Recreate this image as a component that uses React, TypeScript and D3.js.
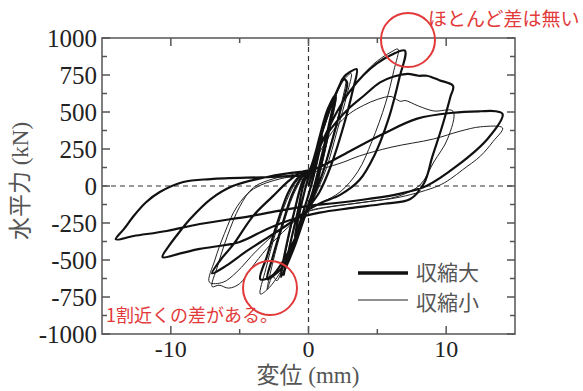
import React from "react";
import * as d3 from "d3";

type P = [number, number];

// ---- data: displacement (mm), horizontal force (kN) ----
// 収縮大 (thick)
const thick1: P[] = [[0,0],[0.4,130],[0.8,280],[1.0,340],[0.7,200],[0.3,40],[0,-60],[-0.4,-180],[-0.8,-300],[-1.0,-350],[-0.7,-200],[-0.3,-40],[0,60]];
const thick2: P[] = [[0.5,190],[1.2,430],[1.8,580],[1.9,600],[1.5,420],[0.9,180],[0.3,-40],[-0.3,-200],[-1.0,-400],[-1.7,-560],[-1.8,-600],[-1.4,-420],[-0.8,-180],[-0.3,30],[0.2,120],
  [0.8,330],[1.4,520],[2.0,620],[1.6,430],[1.0,170],[0.4,-60],[-0.2,-190],[-0.9,-380],[-1.6,-540],[-2.0,-610],[-1.6,-400],[-1.0,-160],[-0.4,40],[0.1,110]];
const thick3: P[] = [[0.8,320],[1.6,540],[2.3,690],[2.5,725],[2.8,700],[2.4,540],[1.7,300],[1.0,80],[0.3,-80],[-0.4,-230],[-1.2,-420],[-2.0,-560],[-2.6,-610],[-3.0,-630],[-2.6,-480],[-1.9,-260],[-1.2,-60],[-0.5,60],[0.1,110],
  [0.9,340],[1.8,580],[2.6,740],[3.0,770],[3.5,790],[3.2,640],[2.5,390],[1.6,130],[0.8,-40],[0,-150],[-0.8,-320],[-1.8,-500],[-2.7,-610],[-3.5,-630],[-3.0,-470],[-2.2,-230],[-1.4,-30],[-0.6,70],[0.1,110]];
const thick7: P[] = [[1.0,300],[2.0,490],[3.0,640],[4.0,750],[5.0,830],[6.0,885],[7.0,915],[6.6,730],[5.8,450],[4.8,210],[3.7,40],[2.3,-60],[1.0,-110],[0,-160],[-1.5,-260],[-3.0,-350],[-4.5,-440],[-6.0,-540],[-7.0,-590],[-6.4,-500],[-5.5,-400],[-4.0,-200],[-2.6,-70],[-1.5,30],[-0.5,95],[0.2,115]];
const thick10: P[] = [[1.0,300],[2.0,430],[3.0,530],[4.0,608],[5.2,700],[6.2,740],[7.2,757],[8.0,745],[8.6,745],[9.5,715],[10.5,676],[10.3,600],[9.7,400],[9.0,200],[8.4,20],[7.4,-88],[5.5,-120],[3.0,-150],[0.8,-180],[-1.0,-220],[-3.0,-290],[-5.0,-378],[-7.9,-425],[-9.3,-455],[-10.6,-480],[-10.1,-400],[-9.6,-338],[-8.6,-223],[-7.1,-88],[-5.5,0],[-3.0,61],[-0.6,95],[0.2,100]];
const thick14: P[] = [[0.6,120],[1.3,150],[3.0,235],[5.4,351],[7.9,455],[10.5,495],[12.5,505],[13.6,505],[14.1,486],[13.0,318],[10.8,137],[8.6,2],[6.5,-55],[4.3,-88],[2.0,-115],[0.1,-133],[-2.0,-165],[-4.2,-203],[-7.9,-257],[-10.3,-304],[-12.7,-338],[-14.0,-360],[-13.4,-290],[-12.7,-203],[-11.8,-110],[-10.8,-41],[-9.1,27],[-7.1,47],[-3.0,60],[-0.6,70],[0,80]];

// 収縮小 (thin)
const thin1: P[] = [[0,0],[0.4,140],[0.9,300],[1.0,330],[0.6,150],[0.2,0],[-0.3,-150],[-0.8,-290],[-1.0,-340],[-0.6,-170],[-0.2,-10],[0.2,90]];
const thin2: P[] = [[0.8,320],[1.5,520],[2.0,600],[1.6,400],[1.0,160],[0.4,-50],[-0.3,-220],[-1.1,-430],[-1.8,-580],[-2.0,-620],[-1.6,-420],[-1.0,-170],[-0.4,30],[0.1,110]];
const thin3: P[] = [[0.9,340],[1.7,560],[2.4,700],[2.7,720],[2.4,560],[1.7,310],[1.0,80],[0.3,-90],[-0.5,-260],[-1.4,-470],[-2.3,-620],[-3.0,-700],[-3.5,-730],[-3.1,-560],[-2.4,-320],[-1.6,-100],[-0.8,40],[0,100],
  [0.9,330],[1.8,570],[2.6,720],[3.1,760],[2.8,620],[2.1,380],[1.3,120],[0.5,-60],[-0.3,-220],[-1.2,-430],[-2.0,-590],[-2.3,-640],[-2.6,-610],[-3.0,-700],[-2.6,-520],[-1.9,-280],[-1.1,-60],[-0.4,60],[0.1,110]];
const thin7: P[] = [[1.0,300],[2.0,490],[3.0,640],[4.0,755],[5.0,845],[6.0,905],[6.5,925],[6.2,780],[5.6,560],[4.6,300],[3.6,100],[2.3,-40],[1.0,-110],[0,-160],[-1.5,-280],[-3.0,-420],[-4.2,-560],[-5.0,-660],[-5.8,-690],[-6.5,-670],[-7.0,-680],[-6.6,-540],[-5.9,-340],[-5.0,-140],[-4.0,-10],[-2.5,50],[-1.0,80],[0,100]];
const thin10: P[] = [[1.0,260],[2.0,400],[3.0,490],[4.0,545],[5.0,585],[6.0,605],[6.3,590],[6.7,572],[7.0,578],[8.0,540],[9.1,507],[10.5,505],[10.1,318],[9.1,162],[8.1,7],[6.5,-70],[4.0,-110],[1.5,-140],[0,-170],[-2.0,-290],[-3.8,-440],[-5.2,-580],[-6.2,-650],[-7.2,-650],[-6.8,-500],[-6.1,-320],[-5.2,-140],[-4.0,-20],[-2.0,50],[0,80]];
const thin14: P[] = [[1.0,115],[2.5,160],[3.7,203],[6.0,262],[9.1,318],[11.0,370],[12.5,400],[14.1,392],[13.4,300],[12.5,203],[11.2,110],[10.3,47],[9.4,0],[6.7,-74],[4.0,-110],[1.0,-150],[0,-170]];

const xMajor = [-10, 0, 10];
const xMinor = [-5, 5];
const yMajor = [-1000, -750, -500, -250, 0, 250, 500, 750, 1000];
const yMinor = [-875, -625, -375, -125, 125, 375, 625, 875];

const thickSeries: P[] = [...thick1, ...thick2, ...thick3, ...thick7, ...thick10, ...thick14];
const thinSeries: P[] = [...thin1, ...thin2, ...thin3, ...thin7, ...thin10, ...thin14];

const legendLabels = ["収縮大", "収縮小"];

export default function App() {
  const W = 583, H = 391;
  const L = 102, R = 515, T = 38, B = 334;
  const x = d3.scaleLinear().domain([-15, 15]).range([L, R]);
  const y = d3.scaleLinear().domain([-1000, 1000]).range([B, T]);
  const line = d3.line<P>().x(d => x(d[0])).y(d => y(d[1])).curve(d3.curveCatmullRom.alpha(0.5));
  const serif = "'Liberation Serif', 'Times New Roman', serif";
  const jp = "'Noto Sans CJK JP', sans-serif";
  const axisCol = "#555";
  const red = "#e23a3a";
  return (
    <svg width={W} height={H} style={{ position: "absolute", left: 0, top: 0 }}>
      <rect width={W} height={H} fill="#fff" />
      {/* zero lines */}
      <line x1={L} x2={R} y1={y(0)} y2={y(0)} stroke="#333" strokeWidth={1.2} strokeDasharray="5,4" />
      <line x1={x(0)} x2={x(0)} y1={T} y2={B} stroke="#333" strokeWidth={1.2} strokeDasharray="5,4" />
      {/* curves */}
      <path d={line(thinSeries) || ""} fill="none" stroke="#222" strokeWidth={1} strokeLinejoin="round" />
      <path d={line(thickSeries) || ""} fill="none" stroke="#111" strokeWidth={2.2} strokeLinejoin="round" />
      {/* frame */}
      <rect x={L} y={T} width={R - L} height={B - T} fill="none" stroke={axisCol} strokeWidth={1.5} />
      {xMajor.map(v => (
        <g key={"xm" + v}>
          <line x1={x(v)} x2={x(v)} y1={B} y2={B - 8} stroke={axisCol} strokeWidth={1.5} />
          <line x1={x(v)} x2={x(v)} y1={T} y2={T + 8} stroke={axisCol} strokeWidth={1.5} />
          <text x={x(v)} y={357} textAnchor="middle" fontFamily={serif} fontSize={24} fill="#222">{v < 0 ? "-" + Math.abs(v) : v}</text>
        </g>
      ))}
      {xMinor.map(v => (
        <g key={"xn" + v}>
          <line x1={x(v)} x2={x(v)} y1={B} y2={B - 5} stroke={axisCol} strokeWidth={1.5} />
          <line x1={x(v)} x2={x(v)} y1={T} y2={T + 5} stroke={axisCol} strokeWidth={1.5} />
        </g>
      ))}
      {yMajor.map(v => (
        <g key={"ym" + v}>
          <line x1={L} x2={L + 8} y1={y(v)} y2={y(v)} stroke={axisCol} strokeWidth={1.5} />
          <line x1={R} x2={R - 8} y1={y(v)} y2={y(v)} stroke={axisCol} strokeWidth={1.5} />
          <text x={97} y={y(v)} dy="0.34em" textAnchor="end" fontFamily={serif} fontSize={25} fill="#222">{v < 0 ? "-" + Math.abs(v) : v}</text>
        </g>
      ))}
      {yMinor.map(v => (
        <g key={"yn" + v}>
          <line x1={L} x2={L + 5} y1={y(v)} y2={y(v)} stroke={axisCol} strokeWidth={1.5} />
          <line x1={R} x2={R - 5} y1={y(v)} y2={y(v)} stroke={axisCol} strokeWidth={1.5} />
        </g>
      ))}
      {/* axis titles */}
      <text x={308} y={383} textAnchor="middle" fontSize={23} fill={axisCol}>
        <tspan fontFamily={jp}>変位</tspan><tspan fontFamily={serif}> (mm)</tspan>
      </text>
      <text transform="translate(28,181) rotate(-90)" textAnchor="middle" fontSize={23} fill={axisCol}>
        <tspan fontFamily={jp}>水平力</tspan><tspan fontFamily={serif}> (kN)</tspan>
      </text>
      {/* legend */}
      <line x1={358} x2={408} y1={273} y2={273} stroke="#111" strokeWidth={3.5} />
      <line x1={358} x2={408} y1={300} y2={300} stroke="#222" strokeWidth={1} />
      <text x={416} y={272} dy="0.36em" fontFamily={jp} fontSize={21} fill={axisCol}>{legendLabels[0]}</text>
      <text x={416} y={302} dy="0.36em" fontFamily={jp} fontSize={21} fill={axisCol}>{legendLabels[1]}</text>
      {/* annotations */}
      <circle cx={408} cy={40} r={27} fill="none" stroke={red} strokeWidth={2} />
      <text x={428} y={19} dy="0.36em" fontFamily={jp} fontSize={19} fill={red}>ほとんど差は無い</text>
      <circle cx={270} cy={288} r={27} fill="none" stroke={red} strokeWidth={2} />
      <text x={106} y={316} dy="0.36em" fontFamily={jp} fontSize={18} fill={red}>1割近くの差がある。</text>
    </svg>
  );
}
